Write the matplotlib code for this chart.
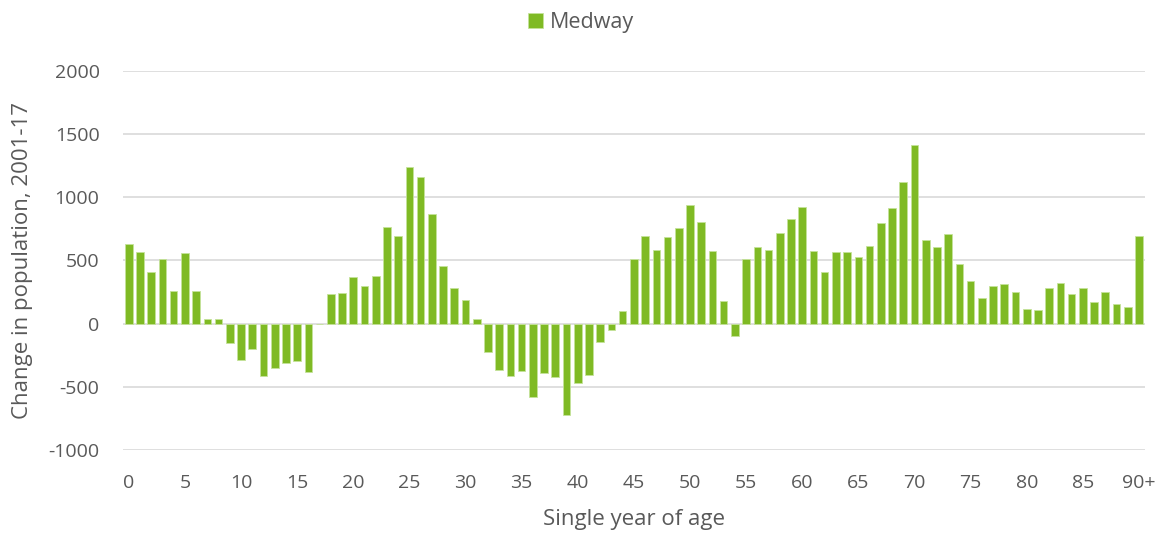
import matplotlib
matplotlib.use("Agg")
import matplotlib.pyplot as plt
import numpy as np

ages = list(range(91))
tick_positions = list(range(0, 91, 5))
tick_labels = [str(a) for a in range(0, 90, 5)] + ["90+"]
values = [632, 569, 408, 513, 261, 556, 258, 34, 37, -153,
          -290, -197, -416, -350, -311, -295, -384, 0, 234, 245,
          369, 300, 377, 763, 695, 1240, 1161, 869, 453, 282,
          184, 34, -221, -363, -416, -374, -577, -390, -421, -721,
          -471, -408, -147, -47, 100, 511, 690, 587, 687, 758,
          943, 806, 577, 176, -95, 508, 603, 587, 719, 827,
          924, 579, 408, 569, 571, 527, 616, 800, 916, 1119,
          1411, 664, 608, 711, 471, 340, 203, 298, 316, 248,
          113, 105, 282, 324, 237, 284, 174, 248, 155, 134, 695]
series_name = "Medway"

plt.rcParams['font.family'] = ['Open Sans', 'DejaVu Sans']
plt.rcParams['axes.unicode_minus'] = False
fig = plt.figure(figsize=(11.62, 5.38), dpi=100)
ax = fig.add_axes([0.106, 0.1636, 0.879, 0.7044])

ax.bar(ages, values, width=0.68, color="#7fba24", edgecolor="#c5e39a", linewidth=0.6,
       label=series_name, zorder=3)
ax.set_xlim(-0.5, 90.5)
ax.set_ylim(-1000, 2000)
ax.set_yticks(range(-1000, 2001, 500))
ax.set_xticks(tick_positions)
ax.set_xticklabels(tick_labels)
ax.grid(axis='y', color="#d9d9d9", linewidth=1.2, zorder=0)
for s in ax.spines.values():
    s.set_visible(False)
ax.tick_params(axis='both', length=0, labelsize=14, colors="#595959")
ax.tick_params(axis='x', pad=17)
ax.tick_params(axis='y', pad=17)
ax.set_xlabel("Single year of age", fontsize=16, color="#595959", va='top')
ax.set_ylabel("Change in population, 2001-17", fontsize=16, color="#595959")
ax.xaxis.set_label_coords(0.5, -0.155)
ax.yaxis.set_label_coords(-0.088, 0.5)

leg = fig.legend(loc="upper center", bbox_to_anchor=(0.5, 1.014), frameon=False, fontsize=15.5,
                 handlelength=0.7, handleheight=0.7, handletextpad=0.3)
for t in leg.get_texts():
    t.set_color("#595959")

fig.savefig("out.png", dpi=100)
